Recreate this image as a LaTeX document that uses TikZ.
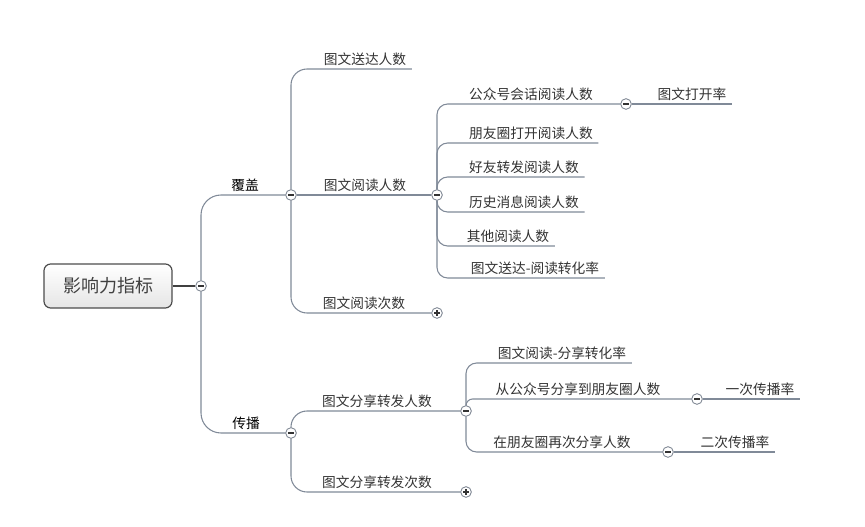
\documentclass[tikz,border=0pt]{standalone}
\usepackage{fontspec}
\usepackage{xcolor}
\usepackage{tikz}
\newfontfamily\cjk{Noto Sans CJK SC}
\definecolor{linec}{RGB}{128,138,152}

\begin{document}
\begin{tikzpicture}[x=0.75pt, y=-0.75pt]
    \tikzset{box/.style = {shape=rectangle, rounded corners=5pt, draw=black!70, line width=0.9pt, top color=white, bottom color=black!10, minimum width=96pt, minimum height=33pt, font=\cjk\fontsize{13.5}{16}\selectfont, text=black!75}}
    \tikzset{topic/.style = {anchor=south, font=\cjk\fontsize{10.3}{12}\selectfont, text=black!80, inner xsep=4pt, inner ysep=2.4pt}}
    \tikzset{fold/.style = {shape=circle, draw=linec!90!black, fill=white, line width=0.6pt, inner sep=0pt, minimum size=8pt, path picture={\draw[black!80, line width=0.8pt] ([xshift=-2.2pt]path picture bounding box.center) -- ([xshift=2.2pt]path picture bounding box.center);}}}
    \tikzset{unfold/.style = {fold, path picture={\draw[black!80, line width=0.8pt] ([xshift=-2.2pt]path picture bounding box.center) -- ([xshift=2.2pt]path picture bounding box.center) ([yshift=-2.2pt]path picture bounding box.center) -- ([yshift=2.2pt]path picture bounding box.center);}}}
    \tikzset{edge/.style = {draw=linec, line width=0.8pt, rounded corners=8pt}}

    \useasboundingbox (0,0) rectangle (865,527);

    \node[box] (root) at (108,286) {影响力指标};

    \node[fold] (fRoot) at (201,286) {};
    \node[fold] (fCover) at (291,195) {};
    \node[fold] (fSpread) at (291,433) {};
    \node[fold] (fRead) at (437,195) {};
    \node[unfold] (fReadCount) at (437,313) {};
    \node[fold] (fSession) at (626,104) {};
    \node[fold] (fShare) at (466,411) {};
    \node[unfold] (fShareCount) at (466,492) {};
    \node[fold] (fFirst) at (697,399) {};
    \node[fold] (fSecond) at (668,452) {};

    \node[topic, text=black] (cover) at (245,195) {覆盖};
    \node[topic, text=black] (spread) at (246,433) {传播};
    \node[topic] (sent) at (365,69) {图文送达人数};
    \node[topic] (read) at (365,195) {图文阅读人数};
    \node[topic] (readCount) at (364,313) {图文阅读次数};
    \node[topic] (session) at (531,104) {公众号会话阅读人数};
    \node[topic] (openRate) at (692,104) {图文打开率};
    \node[topic] (moments) at (531,143) {朋友圈打开阅读人数};
    \node[topic] (forward) at (524,177) {好友转发阅读人数};
    \node[topic] (history) at (524,212) {历史消息阅读人数};
    \node[topic] (other) at (508,246) {其他阅读人数};
    \node[topic] (convRead) at (535,278) {图文送达-阅读转化率};
    \node[topic] (share) at (377,411) {图文分享转发人数};
    \node[topic] (shareCount) at (377,492) {图文分享转发次数};
    \node[topic] (convShare) at (562,363) {图文阅读-分享转化率};
    \node[topic] (toMoments) at (578,399) {从公众号分享到朋友圈人数};
    \node[topic] (firstRate) at (760,399) {一次传播率};
    \node[topic] (again) at (562,452) {在朋友圈再次分享人数};
    \node[topic] (secondRate) at (735,452) {二次传播率};

    \draw[black!75, line width=0.8pt] (root) -- (fRoot);
    \draw[edge, rounded corners=15pt] (fRoot) |- (fCover);
    \draw[edge, rounded corners=15pt] (fRoot) |- (fSpread);
    \draw[edge, rounded corners=12pt] (fCover) |- (sent.south east);
    \draw[edge] (fCover) -- (fRead);
    \draw[edge, rounded corners=12pt] (fCover) |- (fReadCount);
    \draw[edge] (fRead) |- (fSession);
    \draw[edge] (fSession) -- (openRate.south east);
    \draw[edge] (fRead) |- (moments.south east);
    \draw[edge] (fRead) |- (forward.south east);
    \draw[edge] (fRead) |- (history.south east);
    \draw[edge] (fRead) |- (other.south east);
    \draw[edge] (fRead) |- (convRead.south east);
    \draw[edge, rounded corners=12pt] (fSpread) |- (fShare);
    \draw[edge, rounded corners=12pt] (fSpread) |- (fShareCount);
    \draw[edge] (fShare) |- (convShare.south east);
    \draw[edge, rounded corners=5pt] (fShare) |- (fFirst);
    \draw[edge] (fFirst) -- (firstRate.south east);
    \draw[edge] (fShare) |- (fSecond);
    \draw[edge] (fSecond) -- (secondRate.south east);
\end{tikzpicture}
\end{document}
